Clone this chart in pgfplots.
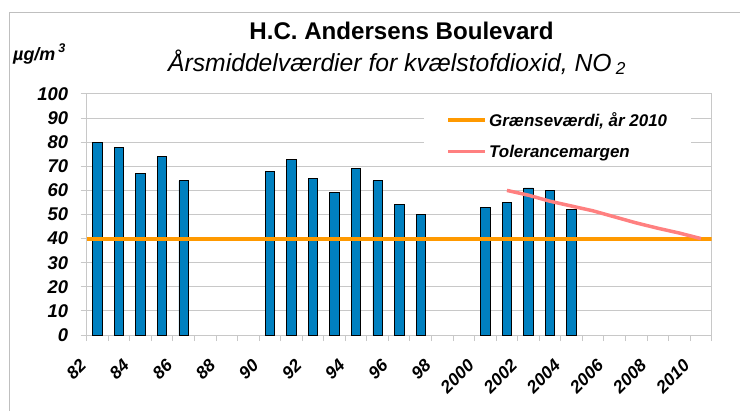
\documentclass[border=0pt]{standalone}
\usepackage{fontspec}
\setmainfont{Liberation Sans}
\usepackage{pgfplots}
\pgfplotsset{compat=1.18}
\definecolor{barblue}{HTML}{0080C0}
\definecolor{limorange}{HTML}{FF9900}
\definecolor{tolpink}{HTML}{FF8080}
\definecolor{gridgray}{HTML}{C8C8C8}
\definecolor{framegray}{HTML}{BFBFBF}
\begin{document}
\begin{tikzpicture}[x=1bp,y=1bp]
\useasboundingbox (0,0) rectangle (740,410);
\draw[framegray, line width=1bp] (9,-5) -- (9,397) -- (745,397);
\node[anchor=base, font=\bfseries\fontsize{24.2}{25}\selectfont, inner sep=0] at (401.5,371) {H.C. Andersens Boulevard};
\node[anchor=base, font=\itshape\fontsize{24.8}{25}\selectfont, inner sep=0] at (397,339) {Årsmiddelværdier for kvælstofdioxid, NO\,\textsubscript{2}};
\node[anchor=base west, font=\bfseries\itshape\fontsize{18}{18}\selectfont, inner sep=0] at (13,350) {µg/m\,\raisebox{1.5bp}{\textsuperscript{3}}};
\begin{axis}[
  at={(86.7bp,75bp)}, anchor=south west,
  scale only axis, width=625bp, height=241bp,
  xmin=-0.5, xmax=28.5, ymin=0, ymax=100,
  ytick={0,10,...,100},
  xtick={-0.5,0.5,...,28.5},
  xticklabels={},
  extra x ticks={0,2,...,28},
  extra x tick labels={82,84,86,88,90,92,94,96,98,2000,2002,2004,2006,2008,2010},
  extra x tick style={major tick length=0pt, grid=none},
  tick align=outside, tick pos=left,
  major tick length=6bp,
  tick style={gridgray, line width=1bp},
  ymajorgrids, grid style={gridgray, line width=1bp},
  axis line style={gridgray, line width=1bp},
  /pgf/number format/assume math mode=true,
  yticklabel style={font=\bfseries\itshape\fontsize{18.5}{18.5}\selectfont, xshift=-9bp},
  xticklabel style={font=\bfseries\itshape\fontsize{17.5}{17.5}\selectfont, xshift=-12bp, yshift=-25bp, rotate=45, anchor=east},
  legend style={at={(0.5397,0.945)}, anchor=north west, draw=none, fill=white,
    font=\bfseries\itshape\fontsize{17}{17}\selectfont, row sep=13bp,
    inner xsep=22bp, inner ysep=3bp, cells={anchor=west}},
  legend image code/.code={\draw[#1] (0bp,0bp) -- (37bp,0bp);},
]
\addplot[ybar, bar width=9.5bp, fill=barblue, draw=black, line width=0.8bp, forget plot] coordinates {
(0,80) (1,78) (2,67) (3,74) (4,64)
(8,68) (9,73) (10,65) (11,59) (12,69) (13,64) (14,54) (15,50)
(18,53) (19,55) (20,61) (21,60) (22,52)};
\addplot[limorange, line width=4bp] coordinates {(-0.5,40) (28.5,40)};
\addlegendentry{Grænseværdi, år 2010}
\addplot[tolpink, line width=3.5bp] coordinates {(19,60) (20,58) (21,55.5) (22,53.5) (23,51.5) (24,49) (25,46.5) (26,44.3) (27,42.3) (28,40)};
\addlegendentry{Tolerancemargen}
\end{axis}
\end{tikzpicture}
\end{document}
